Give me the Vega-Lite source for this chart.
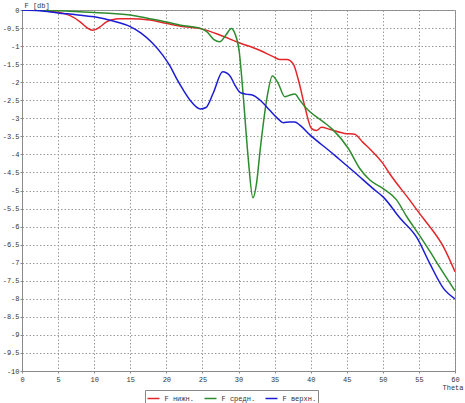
{
  "$schema": "https://vega.github.io/schema/vega-lite/v6.json",
  "width": 433,
  "height": 361,
  "autosize": {"type": "none"},
  "padding": {"left": 22, "top": 10, "right": 10, "bottom": 32},
  "background": "white",
  "config": {
    "view": {"stroke": "#8a8a8a", "strokeWidth": 1},
    "font": "Liberation Mono",
    "axis": {
      "labelFont": "Liberation Mono",
      "labelFontSize": 7,
      "labelColor": "#333333",
      "titleFont": "Liberation Mono",
      "titleFontSize": 7,
      "titleFontWeight": "normal",
      "titleColor": "#333333",
      "domainColor": "#8a8a8a",
      "tickColor": "#8a8a8a",
      "tickSize": 2,
      "gridColor": "#9a9a9a",
      "gridDash": [1.5, 2],
      "gridWidth": 1,
      "gridOpacity": 1
    },
    "legend": {
      "labelFont": "Liberation Mono",
      "labelFontSize": 7,
      "labelColor": "#333333"
    }
  },
  "data": {
    "values": [
      {"theta": 0, "F": 0, "series": "F нижн."},
      {"theta": 2.5, "F": -0.01, "series": "F нижн."},
      {"theta": 4.3, "F": -0.05, "series": "F нижн."},
      {"theta": 5.5, "F": -0.08, "series": "F нижн."},
      {"theta": 6.6, "F": -0.15, "series": "F нижн."},
      {"theta": 8, "F": -0.32, "series": "F нижн."},
      {"theta": 9, "F": -0.49, "series": "F нижн."},
      {"theta": 9.8, "F": -0.56, "series": "F нижн."},
      {"theta": 10.8, "F": -0.47, "series": "F нижн."},
      {"theta": 11.7, "F": -0.33, "series": "F нижн."},
      {"theta": 12.5, "F": -0.27, "series": "F нижн."},
      {"theta": 13.5, "F": -0.24, "series": "F нижн."},
      {"theta": 15, "F": -0.24, "series": "F нижн."},
      {"theta": 17.7, "F": -0.28, "series": "F нижн."},
      {"theta": 20, "F": -0.37, "series": "F нижн."},
      {"theta": 22, "F": -0.45, "series": "F нижн."},
      {"theta": 25, "F": -0.53, "series": "F нижн."},
      {"theta": 27.5, "F": -0.7, "series": "F нижн."},
      {"theta": 30, "F": -0.9, "series": "F нижн."},
      {"theta": 32.5, "F": -1.08, "series": "F нижн."},
      {"theta": 34.8, "F": -1.29, "series": "F нижн."},
      {"theta": 35.7, "F": -1.37, "series": "F нижн."},
      {"theta": 36.7, "F": -1.37, "series": "F нижн."},
      {"theta": 37.6, "F": -1.5, "series": "F нижн."},
      {"theta": 38.3, "F": -1.94, "series": "F нижн."},
      {"theta": 39.2, "F": -2.68, "series": "F нижн."},
      {"theta": 40.1, "F": -3.28, "series": "F нижн."},
      {"theta": 40.8, "F": -3.34, "series": "F нижн."},
      {"theta": 41.5, "F": -3.25, "series": "F нижн."},
      {"theta": 42.7, "F": -3.31, "series": "F нижн."},
      {"theta": 44.7, "F": -3.42, "series": "F нижн."},
      {"theta": 46.1, "F": -3.44, "series": "F нижн."},
      {"theta": 47.2, "F": -3.66, "series": "F нижн."},
      {"theta": 48.2, "F": -3.85, "series": "F нижн."},
      {"theta": 50, "F": -4.25, "series": "F нижн."},
      {"theta": 51, "F": -4.55, "series": "F нижн."},
      {"theta": 53.7, "F": -5.26, "series": "F нижн."},
      {"theta": 55.6, "F": -5.77, "series": "F нижн."},
      {"theta": 56.5, "F": -6.0, "series": "F нижн."},
      {"theta": 58.4, "F": -6.56, "series": "F нижн."},
      {"theta": 60, "F": -7.25, "series": "F нижн."},

      {"theta": 0, "F": 0, "series": "F средн."},
      {"theta": 5, "F": -0.02, "series": "F средн."},
      {"theta": 10, "F": -0.07, "series": "F средн."},
      {"theta": 15, "F": -0.14, "series": "F средн."},
      {"theta": 17.7, "F": -0.24, "series": "F средн."},
      {"theta": 20, "F": -0.33, "series": "F средн."},
      {"theta": 22, "F": -0.42, "series": "F средн."},
      {"theta": 24.7, "F": -0.51, "series": "F средн."},
      {"theta": 25.6, "F": -0.6, "series": "F средн."},
      {"theta": 26.6, "F": -0.82, "series": "F средн."},
      {"theta": 27.4, "F": -0.88, "series": "F средн."},
      {"theta": 28.3, "F": -0.68, "series": "F средн."},
      {"theta": 29, "F": -0.51, "series": "F средн."},
      {"theta": 29.5, "F": -0.65, "series": "F средн."},
      {"theta": 30.1, "F": -1.15, "series": "F средн."},
      {"theta": 30.7, "F": -2.49, "series": "F средн."},
      {"theta": 31.3, "F": -4.0, "series": "F средн."},
      {"theta": 32, "F": -5.2, "series": "F средн."},
      {"theta": 32.5, "F": -4.8, "series": "F средн."},
      {"theta": 33, "F": -3.88, "series": "F средн."},
      {"theta": 33.9, "F": -2.49, "series": "F средн."},
      {"theta": 34.7, "F": -1.83, "series": "F средн."},
      {"theta": 35.5, "F": -2.03, "series": "F средн."},
      {"theta": 36.4, "F": -2.4, "series": "F средн."},
      {"theta": 37.1, "F": -2.36, "series": "F средн."},
      {"theta": 37.8, "F": -2.33, "series": "F средн."},
      {"theta": 38.5, "F": -2.5, "series": "F средн."},
      {"theta": 39.2, "F": -2.68, "series": "F средн."},
      {"theta": 39.9, "F": -2.82, "series": "F средн."},
      {"theta": 41.7, "F": -3.09, "series": "F средн."},
      {"theta": 43.1, "F": -3.32, "series": "F средн."},
      {"theta": 45.2, "F": -3.83, "series": "F средн."},
      {"theta": 46.8, "F": -4.39, "series": "F средн."},
      {"theta": 48.2, "F": -4.71, "series": "F средн."},
      {"theta": 50, "F": -4.94, "series": "F средн."},
      {"theta": 51.9, "F": -5.26, "series": "F средн."},
      {"theta": 53.3, "F": -5.72, "series": "F средн."},
      {"theta": 55.1, "F": -6.25, "series": "F средн."},
      {"theta": 56.5, "F": -6.68, "series": "F средн."},
      {"theta": 57.9, "F": -7.13, "series": "F средн."},
      {"theta": 60, "F": -7.78, "series": "F средн."},

      {"theta": 0, "F": 0, "series": "F верхн."},
      {"theta": 2.5, "F": -0.02, "series": "F верхн."},
      {"theta": 5, "F": -0.08, "series": "F верхн."},
      {"theta": 7.5, "F": -0.13, "series": "F верхн."},
      {"theta": 10, "F": -0.19, "series": "F верхн."},
      {"theta": 12.5, "F": -0.3, "series": "F верхн."},
      {"theta": 15, "F": -0.46, "series": "F верхн."},
      {"theta": 16.5, "F": -0.64, "series": "F верхн."},
      {"theta": 18, "F": -0.9, "series": "F верхн."},
      {"theta": 19.5, "F": -1.25, "series": "F верхн."},
      {"theta": 20.5, "F": -1.55, "series": "F верхн."},
      {"theta": 21.5, "F": -1.93, "series": "F верхн."},
      {"theta": 22.3, "F": -2.2, "series": "F верхн."},
      {"theta": 23.5, "F": -2.55, "series": "F верхн."},
      {"theta": 24.7, "F": -2.74, "series": "F верхн."},
      {"theta": 25.5, "F": -2.7, "series": "F верхн."},
      {"theta": 26.5, "F": -2.3, "series": "F верхн."},
      {"theta": 27.8, "F": -1.71, "series": "F верхн."},
      {"theta": 28.8, "F": -1.82, "series": "F верхн."},
      {"theta": 29.5, "F": -2.08, "series": "F верхн."},
      {"theta": 30.2, "F": -2.28, "series": "F верхн."},
      {"theta": 31, "F": -2.33, "series": "F верхн."},
      {"theta": 32, "F": -2.36, "series": "F верхн."},
      {"theta": 33, "F": -2.5, "series": "F верхн."},
      {"theta": 34.3, "F": -2.77, "series": "F верхн."},
      {"theta": 35.3, "F": -2.98, "series": "F верхн."},
      {"theta": 36.2, "F": -3.12, "series": "F верхн."},
      {"theta": 37, "F": -3.1, "series": "F верхн."},
      {"theta": 37.8, "F": -3.1, "series": "F верхн."},
      {"theta": 38.5, "F": -3.19, "series": "F верхн."},
      {"theta": 39.9, "F": -3.46, "series": "F верхн."},
      {"theta": 42.7, "F": -3.92, "series": "F верхн."},
      {"theta": 44, "F": -4.14, "series": "F верхн."},
      {"theta": 46, "F": -4.48, "series": "F верхн."},
      {"theta": 48.9, "F": -4.99, "series": "F верхн."},
      {"theta": 50, "F": -5.17, "series": "F верхн."},
      {"theta": 52.4, "F": -5.77, "series": "F верхн."},
      {"theta": 54.7, "F": -6.3, "series": "F верхн."},
      {"theta": 56.5, "F": -7.02, "series": "F верхн."},
      {"theta": 58.4, "F": -7.71, "series": "F верхн."},
      {"theta": 60, "F": -8.0, "series": "F верхн."}
    ]
  },
  "mark": {"type": "line", "interpolate": "monotone", "strokeWidth": 1.5, "clip": true},
  "encoding": {
    "x": {
      "field": "theta",
      "type": "quantitative",
      "scale": {"domain": [0, 60], "nice": false, "zero": false},
      "axis": {
        "values": [0, 5, 10, 15, 20, 25, 30, 35, 40, 45, 50, 55, 60],
        "title": "Theta",
        "titleX": 441,
        "titleY": 16,
        "titleAlign": "right",
        "titleAnchor": null,
        "titleBaseline": "middle",
        "labelPadding": 2,
        "labelFlush": false
      }
    },
    "y": {
      "field": "F",
      "type": "quantitative",
      "scale": {"domain": [-10, 0], "nice": false, "zero": false},
      "axis": {
        "values": [0, -0.5, -1, -1.5, -2, -2.5, -3, -3.5, -4, -4.5, -5, -5.5, -6, -6.5, -7, -7.5, -8, -8.5, -9, -9.5, -10],
        "labelExpr": "'' + datum.value",
        "title": "F [db]",
        "titleAngle": 0,
        "titleX": 2,
        "titleY": -5,
        "titleAlign": "left",
        "titleAnchor": null,
        "titleBaseline": "middle",
        "labelPadding": 1,
        "labelFlush": false
      }
    },
    "color": {
      "field": "series",
      "type": "nominal",
      "sort": null,
      "scale": {
        "domain": ["F нижн.", "F средн.", "F верхн."],
        "range": ["#e3262a", "#2e8b2e", "#1c1cd6"]
      },
      "legend": {
        "title": null,
        "orient": "none",
        "legendX": 123,
        "legendY": 380,
        "direction": "horizontal",
        "strokeColor": "#888888",
        "padding": 1.5,
        "symbolType": "stroke",
        "symbolSize": 144,
        "symbolStrokeWidth": 1.5,
        "columnPadding": 7,
        "labelOffset": 4
      }
    }
  }
}
